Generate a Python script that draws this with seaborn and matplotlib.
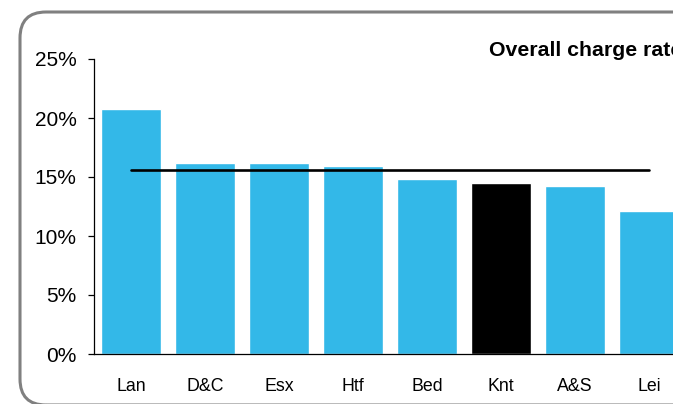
import numpy as np
import pandas as pd
import matplotlib.pyplot as plt
import matplotlib.ticker as mtick
from matplotlib.patches import FancyBboxPatch
from matplotlib.transforms import IdentityTransform
import seaborn as sns

# values
forces = ['Lan', 'D&C', 'Esx', 'Htf', 'Bed', 'Knt', 'A&S', 'Lei']
charge_rate = [0.2075, 0.162, 0.162, 0.159, 0.148, 0.145, 0.142, 0.121]
avg_rate = [0.1557] * len(forces)
bar_colors = ['#33B8E8', '#33B8E8', '#33B8E8', '#33B8E8', '#33B8E8', '#000000', '#33B8E8', '#33B8E8']

df = pd.DataFrame({'force': forces, 'rate': charge_rate})

sns.set_style('white')
plt.rcParams['font.family'] = ['Liberation Sans', 'DejaVu Sans']
plt.rcParams['text.color'] = 'black'
plt.rcParams['xtick.color'] = 'black'
plt.rcParams['ytick.color'] = 'black'

fig = plt.figure(figsize=(6.73, 4.04), dpi=100)
W, H = 673, 404
ax = fig.add_axes([94 / W, 50 / H, 592 / W, 295 / H])

sns.barplot(data=df, x='force', y='rate', hue='force', palette=bar_colors,
            legend=False, width=0.81, saturation=1, ax=ax)
ax.plot(range(len(forces)), avg_rate, color='black', lw=1.9)

ax.set_xlim(-0.5, len(forces) - 0.5)
ax.set_ylim(0, 0.25)
ax.set_yticks(np.arange(0, 0.26, 0.05))
ax.yaxis.set_major_formatter(mtick.PercentFormatter(1.0, decimals=0))
ax.set_xlabel('')
ax.set_ylabel('')
for s in ['top', 'right']:
    ax.spines[s].set_visible(False)
for s in ['left', 'bottom']:
    ax.spines[s].set_color('black')
    ax.spines[s].set_linewidth(0.9)
ax.tick_params(axis='y', left=True, length=4.5, width=0.9, color='black',
               labelcolor='black', labelsize=15, pad=8)
ax.tick_params(axis='x', bottom=False, labelcolor='black', labelsize=12.8, pad=14)

fig.text(489 / W, (H - 56) / H, 'Overall charge rate', fontsize=15.3,
         fontweight='bold', va='baseline', ha='left', color='black')

# rounded frame around the chart
frame = FancyBboxPatch((20, -1), 720, 393, boxstyle='round,pad=0,rounding_size=26',
                       transform=IdentityTransform(), fill=False,
                       edgecolor='#808080', lw=2.2)
fig.patches.append(frame)

fig.savefig('out.png', dpi=100)
